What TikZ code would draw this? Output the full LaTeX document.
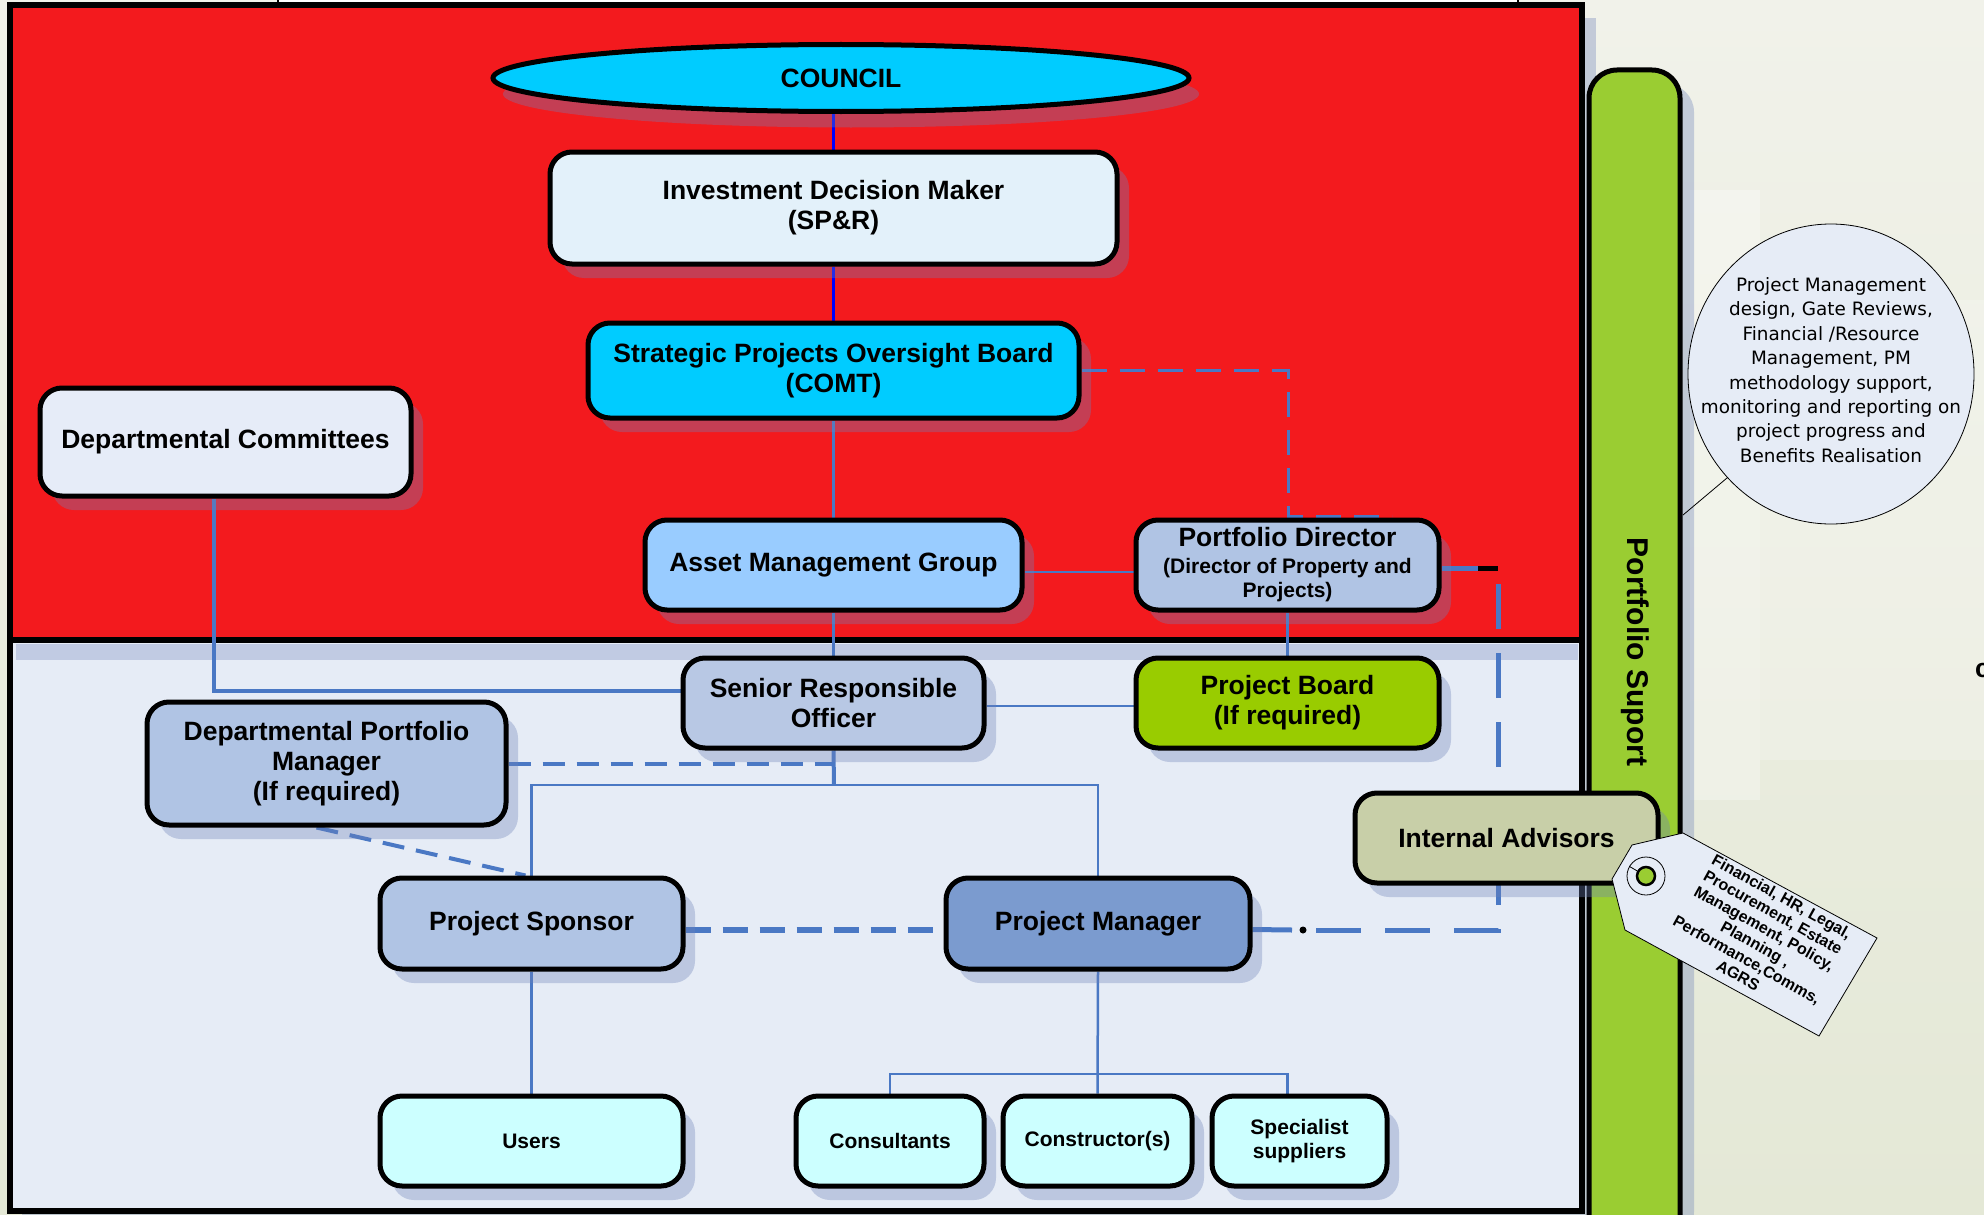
\documentclass[tikz,border=0pt]{standalone}
\usepackage{fontspec}
\setmainfont{Liberation Sans}
\newfontfamily\calloutfont{DejaVu Sans}
\usetikzlibrary{shapes.geometric,shadows,calc}
\definecolor{bgtop}{RGB}{241,242,234}
\definecolor{bgbot}{RGB}{228,232,214}
\definecolor{redbg}{RGB}{243,26,30}
\definecolor{lowbg}{RGB}{230,236,246}
\definecolor{shadowc}{RGB}{110,130,185}
\definecolor{connc}{RGB}{74,120,196}
\definecolor{cyanc}{RGB}{0,204,255}
\definecolor{idmc}{RGB}{227,241,250}
\definecolor{dcc}{RGB}{230,236,248}
\definecolor{amgc}{RGB}{153,204,255}
\definecolor{pdc}{RGB}{176,196,228}
\definecolor{sroc}{RGB}{184,200,228}
\definecolor{pbc}{RGB}{153,204,0}
\definecolor{pmc}{RGB}{123,155,207}
\definecolor{iac}{RGB}{200,207,168}
\definecolor{leafc}{RGB}{204,255,255}
\definecolor{greenbar}{RGB}{154,205,50}
\definecolor{calloutc}{RGB}{230,236,246}
\newcommand\fbig{\bfseries\fontsize{26.5}{30}\selectfont}
\newcommand\fsmall{\bfseries\fontsize{21}{24}\selectfont}
\pgfdeclarelayer{back}
\pgfdeclarelayer{edges}
\pgfsetlayers{back,edges,main}
\begin{document}
\begin{tikzpicture}[x=1pt,y=-1pt,
  orgbox/.style={rectangle, rounded corners=22pt, draw=black, line width=5pt,
    align=center, font=\fbig, inner sep=4pt,
    drop shadow={shadow xshift=12pt, shadow yshift=-14pt, fill=shadowc, opacity=0.35}},
  leaf/.style={orgbox, fill=leafc, font=\fsmall, minimum height=90pt},
  conn/.style={draw=connc, line width=2.5pt},
  dconn/.style={draw=connc, line width=4pt, dash pattern=on 22pt off 12pt},
  blueconn/.style={draw=blue, line width=3.5pt}]
\useasboundingbox (0,0) rectangle (1984,1215);

\begin{pgfonlayer}{back}
\shade[top color=bgtop, bottom color=bgbot] (0,0) rectangle (1984,1215);
\fill[white, opacity=0.3] (1690,190) rectangle (1760,800);
\fill[white, opacity=0.2] (1760,300) rectangle (1984,760);
% panel shadows
\fill[shadowc, opacity=0.35] (22,18) rectangle (1596,654);
\fill[shadowc, opacity=0.35] (22,654) rectangle (1596,1230);
\fill[shadowc, opacity=0.35, rounded corners=28pt] (1603,84) -- (1694,84) -- (1694,1240) -- (1603,1240) -- cycle;
% top strip
\draw[fill=white, line width=1.5pt] (278,-10) rectangle (1518,3);
% panels
\draw[fill=redbg, line width=6pt] (10,5) rectangle (1582,640);
\draw[fill=lowbg, line width=6pt] (10,640) rectangle (1582,1211);
\fill[shadowc, opacity=0.3] (16,644) rectangle (1578,660);
% green bar
\draw[fill=greenbar, line width=5pt, rounded corners=28pt] (1589,1240) -- (1589,70) -- (1680,70) -- (1680,1240);
\end{pgfonlayer}

\node[rotate=-90, font=\bfseries\fontsize{30}{32}\selectfont] (gbtext) at (1635,652) {Portfolio Suport};

% nodes
\node[ellipse, draw=black, line width=5pt, fill=cyanc, minimum width=696pt, minimum height=67pt,
  font=\fbig, drop shadow={shadow xshift=10pt, shadow yshift=-16pt, fill=shadowc, opacity=0.35}] (council) at (841,78) {COUNCIL};
\node[orgbox, fill=idmc, minimum width=567pt, minimum height=112pt] (idm) at (833.5,208) {Investment Decision Maker\\(SP\&R)};
\node[orgbox, fill=cyanc, minimum width=491pt, minimum height=95pt] (spob) at (833.5,370.5) {Strategic Projects Oversight Board\\(COMT)};
\node[orgbox, fill=dcc, minimum width=371pt, minimum height=108pt] (dc) at (225.5,442) {Departmental Committees};
\node[orgbox, fill=amgc, minimum width=377pt, minimum height=90pt] (amg) at (833.5,565) {Asset Management Group};
\node[orgbox, fill=pdc, minimum width=303pt, minimum height=90pt] (pd) at (1287.5,565) {Portfolio Director\\[-3pt]\fsmall (Director of Property and\\[-6pt]\fsmall Projects)};
\node[orgbox, fill=sroc, minimum width=301pt, minimum height=90pt] (sro) at (833.5,703) {Senior Responsible\\Officer};
\node[orgbox, fill=pbc, minimum width=303pt, minimum height=90pt] (pb) at (1287.5,703) {Project Board\\(If required)};
\node[orgbox, fill=pdc, minimum width=359pt, minimum height=123pt] (dpm) at (326.5,763.5) {Departmental Portfolio\\Manager\\(If required)};
\node[orgbox, fill=pdc, minimum width=303pt, minimum height=91pt] (ps) at (531.5,923.5) {Project Sponsor};
\node[orgbox, fill=pmc, minimum width=304pt, minimum height=91pt] (pm) at (1098,923.5) {Project Manager};
\node[orgbox, fill=iac, minimum width=303pt, minimum height=90pt] (ia) at (1506.5,838) {Internal Advisors};
\node[leaf, minimum width=303pt] (users) at (531.5,1141) {Users};
\node[leaf, minimum width=188pt] (cons) at (890,1141) {Consultants};
\node[leaf, minimum width=189pt] (constr) at (1097.5,1141) {Constructor(s)};
\node[leaf, minimum width=175pt] (spec) at (1299.5,1141) {Specialist\\suppliers};

% coordinates
\coordinate (j1) at (834,785);
\coordinate (j2) at (1098,1074);
\coordinate (m2) at (1288,516);
\coordinate (m3) at (1392,516);
\coordinate (k1) at (1478,568);
\coordinate (c2) at (1498,568);
\coordinate (c1) at (1498,930);
\coordinate (k2) at (1292,930);
\coordinate (kdot) at (1303,930);
\coordinate (k3) at (1316,930);

\begin{pgfonlayer}{edges}
\draw[blueconn] (idm.north) -- (idm.north |- council.south);
\draw[blueconn] (idm.south) -- (spob.north);
\draw[conn] (spob.south) -- (amg.north);
\draw[conn] (amg.south) -- (sro.north);
\draw[conn] ([yshift=-7pt]amg.east) -- ([yshift=-7pt]amg.east -| pd.west);
\draw[conn] (pd.south) -- (pb.north);
\draw[conn] ([yshift=-3pt]sro.east) -- ([yshift=-3pt]pb.west);
\draw[conn, line width=4pt] ([xshift=-11.5pt]dc.south) |- ([yshift=12pt]sro.west);
\draw[conn, line width=4pt] (sro.south) -- (j1);
\draw[conn] (ps.north) |- (j1) -| (pm.north);
\draw[dconn] (dpm.east) -- (dpm.east -| j1);
\draw[dconn] ([xshift=-10pt]dpm.south) -- ([xshift=-6pt]ps.north);
\draw[conn] (ps.south) -- (users.north);
\draw[conn] (pm.south) -- (constr.north);
\draw[conn] (cons.north) |- (j2) -| ([xshift=-12pt]spec.north);
\draw[draw=connc, line width=6pt, dash pattern=on 25pt off 12pt] ([yshift=-6pt]ps.east) -- ([yshift=-6pt]pm.west);
\draw[draw=connc, line width=3pt, dash pattern=on 25pt off 13pt] (spob.east) -| (m2) -- (m3);
\draw[draw=connc, line width=5pt] ([yshift=-6pt]pm.east) -- (k2);
\fill[black] (kdot) circle (3.5);
\draw[draw=connc, line width=5pt, dash pattern=on 45pt off 24pt] (k3) -- (c1) -- (c2);
\draw[draw=connc, line width=5pt] (k1 -| pd.east) -- (k1);
\draw[black, line width=5pt] (k1) -- (c2);
\end{pgfonlayer}

% callout
\node[ellipse, draw=black, line width=0.8pt, fill=calloutc, minimum width=286pt, minimum height=300pt] (callout) at (1831,374) {};
\coordinate (ptip) at (1683,515);
\draw[line width=0.8pt] (ptip) -- (callout.225);
\node[align=center, font=\calloutfont\fontsize{18.4}{24.4}\selectfont, inner sep=0pt] (calltext) at (1831,370)
  {Project Management\\design, Gate Reviews,\\Financial /Resource\\Management, PM\\methodology support,\\monitoring and reporting on\\project progress and\\Benefits Realisation};

% tag
\draw[fill=calloutc, line width=0.8pt] (1683,833) -- (1877,938) -- (1819,1036) -- (1625,930) -- (1612,879) -- (1632,845) -- cycle;
\node[circle, draw=black, line width=0.8pt, minimum size=38pt, inner sep=0pt] (hole) at (1646,876) {};
\node[circle, draw=black, line width=2.5pt, fill=greenbar, minimum size=18pt, inner sep=0pt] (holein) at (1646,876) {};
\draw[line width=0.8pt] (hole.150) -- (holein.150);
\node[rotate=-29, align=center, font=\bfseries\fontsize{16}{18}\selectfont] (tagtext) at (1760,936)
  {Financial, HR, Legal,\\Procurement, Estate\\Management, Policy,\\Planning ,\\Performance,Comms,\\AGRS};

% fragment at right edge
\node[anchor=west, inner sep=0pt, font=\fbig] (frag) at (1975,670) {c};
\end{tikzpicture}
\end{document}
